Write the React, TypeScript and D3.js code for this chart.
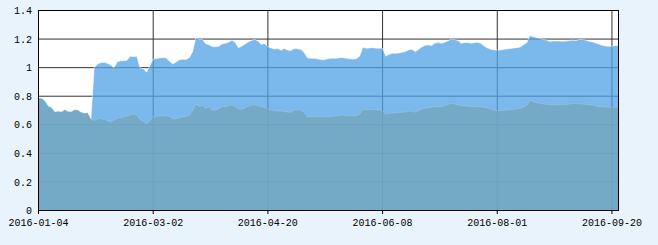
import React from "react";
import * as d3 from "d3";

const tickLabels = ["2016-01-04", "2016-03-02", "2016-04-20", "2016-06-08", "2016-08-01", "2016-09-20"];
const tickEvery = 35;

const upperSeries = [
  0.785, 0.785, 0.765, 0.73, 0.72, 0.69, 0.695, 0.69, 0.705, 0.693,
  0.692, 0.705, 0.703, 0.687, 0.68, 0.685, 0.64, 1.0, 1.025, 1.035,
  1.037, 1.03, 1.02, 0.997, 1.04, 1.049, 1.049, 1.051, 1.08, 1.077,
  1.08, 0.998, 0.993, 0.968, 1.015, 1.06, 1.064, 1.068, 1.07, 1.067,
  1.045, 1.025, 1.04, 1.055, 1.058, 1.057, 1.07, 1.11, 1.208, 1.198,
  1.199, 1.168, 1.16, 1.148, 1.146, 1.15, 1.166, 1.17, 1.178, 1.192,
  1.178, 1.14, 1.15, 1.165, 1.18, 1.19, 1.198, 1.185, 1.163, 1.168,
  1.146, 1.138, 1.13, 1.134, 1.122, 1.134, 1.123, 1.119, 1.134, 1.132,
  1.128, 1.11, 1.07, 1.065, 1.065, 1.062, 1.057, 1.055, 1.06, 1.065,
  1.065, 1.065, 1.07, 1.07, 1.065, 1.062, 1.06, 1.063, 1.08, 1.142,
  1.136, 1.138, 1.14, 1.136, 1.136, 1.135, 1.08, 1.093, 1.1, 1.1,
  1.102, 1.107, 1.113, 1.125, 1.128, 1.112, 1.128, 1.145, 1.157, 1.158,
  1.155, 1.172, 1.176, 1.17, 1.178, 1.188, 1.2, 1.196, 1.19, 1.17,
  1.175, 1.176, 1.17, 1.174, 1.177, 1.17, 1.152, 1.138, 1.128, 1.124,
  1.123, 1.123, 1.128, 1.131, 1.134, 1.137, 1.14, 1.145, 1.16, 1.175,
  1.225, 1.217, 1.21, 1.205, 1.197, 1.193, 1.183, 1.186, 1.186, 1.186,
  1.184, 1.186, 1.19, 1.192, 1.19, 1.197, 1.198, 1.192, 1.185, 1.18,
  1.172, 1.165, 1.156, 1.151, 1.149, 1.15, 1.154, 1.154,
];

const lowerSeries = [
  0.785, 0.785, 0.765, 0.73, 0.72, 0.69, 0.695, 0.69, 0.705, 0.693,
  0.692, 0.705, 0.703, 0.687, 0.68, 0.685, 0.64, 0.63, 0.64, 0.645,
  0.637, 0.63, 0.62, 0.633, 0.645, 0.65, 0.655, 0.662, 0.668, 0.675,
  0.668, 0.636, 0.623, 0.604, 0.63, 0.657, 0.66, 0.661, 0.662, 0.663,
  0.658, 0.64, 0.642, 0.65, 0.655, 0.658, 0.668, 0.696, 0.745, 0.727,
  0.738, 0.715, 0.727, 0.703, 0.703, 0.712, 0.727, 0.727, 0.733, 0.738,
  0.73, 0.71, 0.708, 0.718, 0.73, 0.738, 0.738, 0.733, 0.727, 0.722,
  0.712, 0.702, 0.698, 0.696, 0.696, 0.692, 0.69, 0.686, 0.703, 0.703,
  0.703, 0.688, 0.657, 0.657, 0.657, 0.657, 0.657, 0.657, 0.66, 0.657,
  0.66, 0.663, 0.666, 0.668, 0.663, 0.663, 0.663, 0.664, 0.675, 0.71,
  0.704, 0.706, 0.708, 0.705, 0.703, 0.698, 0.673, 0.68, 0.682, 0.685,
  0.686, 0.687, 0.69, 0.695, 0.696, 0.688, 0.7, 0.708, 0.715, 0.72,
  0.723, 0.727, 0.727, 0.727, 0.735, 0.743, 0.748, 0.748, 0.738, 0.735,
  0.733, 0.73, 0.727, 0.726, 0.728, 0.726, 0.722, 0.715, 0.708, 0.703,
  0.699, 0.699, 0.702, 0.704, 0.705, 0.707, 0.712, 0.716, 0.725, 0.735,
  0.772, 0.762, 0.755, 0.75, 0.746, 0.743, 0.74, 0.738, 0.738, 0.74,
  0.741, 0.741, 0.745, 0.75, 0.748, 0.747, 0.745, 0.743, 0.741, 0.738,
  0.733, 0.727, 0.726, 0.725, 0.722, 0.72, 0.724, 0.727,
];

const W = 658;
const H = 245;
const left = 38.5;
const right = 618.5;
const top = 10.5;
const bottom = 210.5;
const font = "'Liberation Mono', 'DejaVu Sans Mono', monospace";

export default function App() {
  const n = upperSeries.length;
  const x = d3.scaleLinear().domain([0, n - 1]).range([left, right]);
  const y = d3.scaleLinear().domain([0, 1.4]).range([bottom, top]);
  const yTicks = y.ticks(7);
  const fmt = d3.format("~g");
  const xTickIdx = tickLabels.map((_, i) => i * tickEvery);

  const area = (vals: number[]) =>
    d3
      .area<number>()
      .x((_, i) => x(i))
      .y0(y(0))
      .y1((d) => y(d))(vals) || "";
  const line = (vals: number[]) =>
    d3
      .line<number>()
      .x((_, i) => x(i))
      .y((d) => y(d))(vals) || "";

  return (
    <svg
      width={W}
      height={H}
      style={{ position: "absolute", left: 0, top: 0, display: "block" }}
    >
      <rect x={0} y={0} width={W} height={H} fill="#e8f3fc" />
      <rect x={left} y={top} width={right - left} height={bottom - top} fill="#ffffff" />
      {yTicks.map((t) => (
        <line key={"gy" + t} x1={left} x2={right} y1={y(t)} y2={y(t)} stroke="#333" strokeWidth={1} />
      ))}
      {xTickIdx.map((i) => (
        <line key={"gx" + i} x1={x(i)} x2={x(i)} y1={top} y2={bottom} stroke="#333" strokeWidth={1} />
      ))}
      <path d={area(upperSeries)} fill="rgb(81,161,230)" fillOpacity={0.755} />
      <path d={line(upperSeries)} fill="none" stroke="#ffffff" strokeOpacity={0.5} strokeWidth={1} />
      <path d={area(lowerSeries)} fill="rgb(116,166,190)" fillOpacity={0.8} />
      <path d={line(lowerSeries)} fill="none" stroke="#ffffff" strokeOpacity={0.15} strokeWidth={1} />
      <rect x={left} y={top} width={right - left} height={bottom - top} fill="none" stroke="#000" strokeWidth={1} />
      {xTickIdx.map((i, k) => (
        <g key={"xt" + i}>
          <line x1={x(i)} x2={x(i)} y1={bottom} y2={bottom + 3.5} stroke="#000" strokeWidth={1} />
          <text x={x(i)} y={226} textAnchor="middle" fontFamily={font} fontSize={10} fill="#000">
            {tickLabels[k]}
          </text>
        </g>
      ))}
      {yTicks.map((t) => (
        <text key={"yt" + t} x={32} y={y(t) + 3.7} textAnchor="end" fontFamily={font} fontSize={10} fill="#000">
          {fmt(t)}
        </text>
      ))}
    </svg>
  );
}
